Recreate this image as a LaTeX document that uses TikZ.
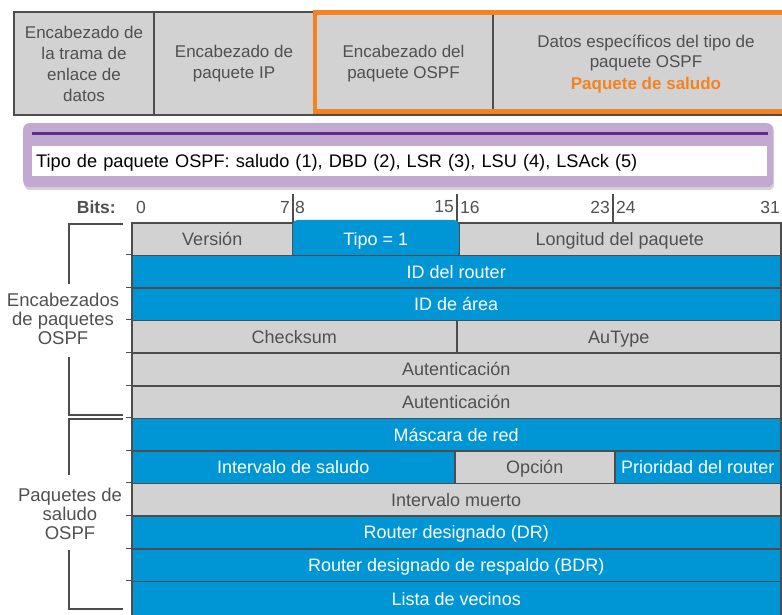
\documentclass[tikz,border=0pt]{standalone}
\usepackage{fontspec}
\setmainfont{Liberation Sans}
\usetikzlibrary{positioning,shadows}

\definecolor{cellgrey}{RGB}{211,210,211}
\definecolor{framegrey}{RGB}{77,77,77}
\definecolor{textgrey}{RGB}{80,80,80}
\definecolor{ospfblue}{RGB}{0,150,214}
\definecolor{ospforange}{RGB}{245,130,32}
\definecolor{lilac}{RGB}{194,169,210}
\definecolor{darkpurple}{RGB}{94,45,138}

\begin{document}
\begin{tikzpicture}[x=1pt,y=-1pt,
  topbox/.style={draw=framegrey, line width=2pt, fill=cellgrey, text=textgrey, anchor=north west, minimum height=103pt, inner sep=2pt, align=center, font=\fontsize{17}{21}\selectfont},
  cell/.style={draw=framegrey, line width=1.5pt, inner sep=0pt, anchor=north west, minimum height=32.6pt, text height=13pt, text depth=0pt, font=\fontsize{18}{20}\selectfont},
  greycell/.style={cell, fill=cellgrey, text=textgrey},
  bluecell/.style={cell, fill=ospfblue, text=white},
  bitlabel/.style={text=textgrey, inner sep=1pt, font=\fontsize{17.5}{19}\selectfont},
  sidelabel/.style={text=textgrey, align=center, font=\fontsize{18.5}{19}\selectfont},
  bracketline/.style={framegrey, line width=1.5pt},
]
\useasboundingbox (0,0) rectangle (782,614);

% Frame with the headers
\node[topbox, minimum width=140pt] (linkhdr) at (13,11) {Encabezado de\\la trama de\\enlace de\\datos};
\node[topbox, minimum width=160pt] (iphdr) at (153,11) {Encabezado de\\paquete IP};
\node[topbox, minimum width=179pt] (ospfhdr) at (313,11) {Encabezado del\\paquete OSPF};
\node[topbox, minimum width=306pt] (ospfdata) at (492,11) {Datos específicos del tipo de\\paquete OSPF\\{\color{ospforange}\bfseries Paquete de saludo}};
\draw[ospforange, line width=4.5pt] (315,12.5) rectangle (800,111.5);

% Packet types
\node[fill=lilac, rounded corners=6pt, minimum width=750pt, minimum height=64pt, anchor=north west,
      drop shadow={shadow xshift=1pt, shadow yshift=-3pt, opacity=0.35}] (typebox) at (23,123) {};
\draw[darkpurple, line width=3pt] (32,133) -- (768,133);
\node[fill=white, anchor=north west, minimum height=30pt, text width=727pt, inner sep=4pt, align=left,
      text height=13pt, text depth=0pt, font=\fontsize{18.2}{20}\selectfont] (typelist) at (32,146) {Tipo de paquete OSPF: saludo (1), DBD (2), LSR (3), LSU (4), LSAck (5)};

% Bit numbers
\node[bitlabel, anchor=east, font=\fontsize{17.5}{19}\selectfont\bfseries] (bits) at (117,207) {Bits:};
\foreach \x/\n/\side in {135/0/west, 291/7/east, 294/8/west, 455/15/east, 459/16/west, 611/23/east, 615/24/west, 781/31/east}
  \node[bitlabel, anchor=\side] (bit\n) at (\x,207) {\n};
\foreach \x in {293,457,613}
  \draw[framegrey, line width=1.5pt] (\x,194) -- (\x,222);

% OSPF header
\node[greycell, minimum width=161pt] (version) at (131,222) {Versión};
\node[greycell, minimum width=322pt] (length) at (458,222) {Longitud del paquete};
\node[bluecell, draw=none, rounded corners=5pt, minimum width=166pt, minimum height=38pt] (type) at (292,219) {Tipo = 1};
\foreach \i/\field/\look in {1/ID del router/bluecell, 2/ID de área/bluecell, 4/Autenticación/greycell, 5/Autenticación/greycell,
    6/Máscara de red/bluecell, 8/Intervalo muerto/greycell, 9/Router designado (DR)/bluecell, 10/Router designado de respaldo (BDR)/bluecell}
  \node[\look, minimum width=649pt] (row\i) at (131,{222+32.6*\i}) {\field};
\node[greycell, minimum width=325pt] (checksum) at (131,319.8) {Checksum};
\node[greycell, minimum width=324pt] (autype) at (456,319.8) {AuType};

% Hello packet
\node[bluecell, minimum width=323pt] (hello) at (131,450.2) {Intervalo de saludo};
\node[greycell, minimum width=160pt] (option) at (454,450.2) {Opción};
\node[bluecell, minimum width=166pt] (priority) at (614,450.2) {Prioridad del router};
\node[bluecell, minimum width=649pt, minimum height=36pt] (row11) at (131,580.6) {Lista de vecinos};
\foreach \i in {1,...,11}
  \draw[framegrey, line width=1pt] (126,{222+32.6*\i}) -- (131,{222+32.6*\i});

% Brackets
\node[sidelabel] (hdrlabel) at (63,319) {Encabezados\\de paquetes\\OSPF};
\draw[bracketline] (123,224) -- (69,224) -- (69,284);
\draw[bracketline] (69,357) -- (69,415) -- (123,415);
\node[sidelabel] (hellolabel) at (70,514) {Paquetes de\\saludo\\OSPF};
\draw[bracketline] (123,419) -- (69,419) -- (69,475);
\draw[bracketline] (69,550) -- (69,609) -- (123,609);

\end{tikzpicture}
\end{document}
